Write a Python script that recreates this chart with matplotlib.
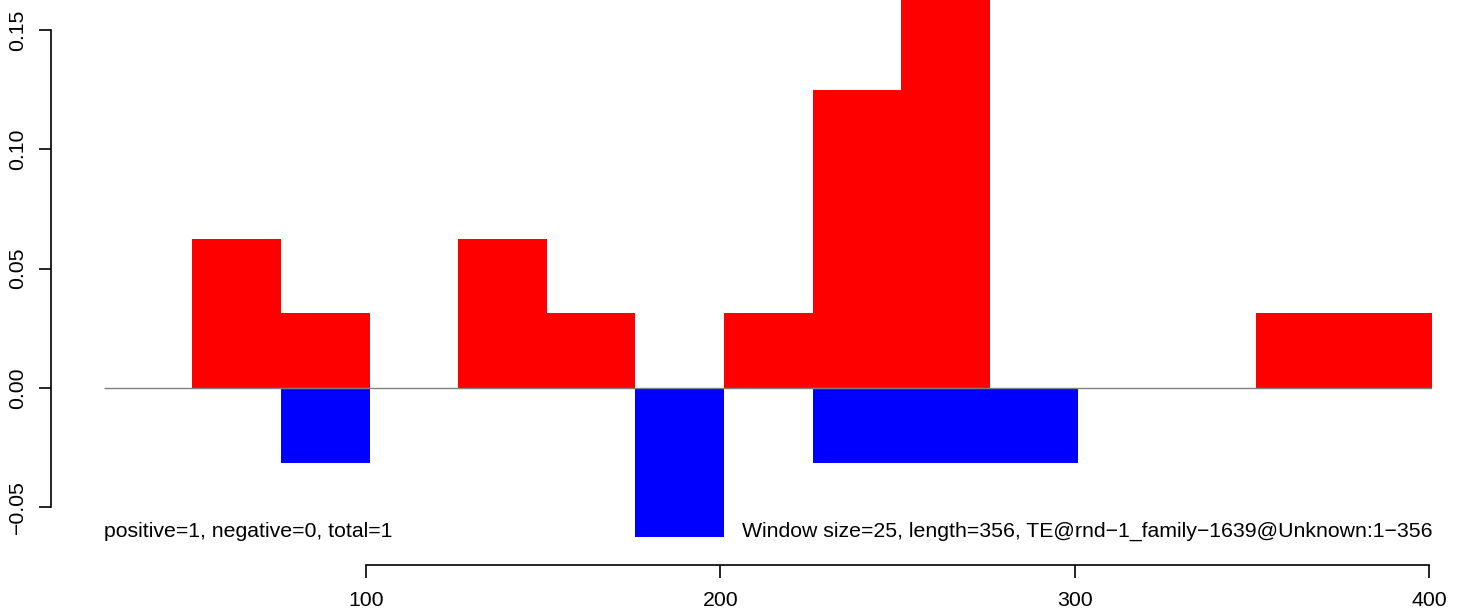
import matplotlib
matplotlib.use("Agg")
import matplotlib.pyplot as plt

# window starts (size 25) and scores
win_start = [26, 51, 76, 101, 126, 151, 176, 201, 226, 251, 276, 301, 326, 351, 376]
win_size = 25
pos_vals = [0, 0.0625, 0.03125, 0, 0.0625, 0.03125, 0, 0.03125, 0.125, 0.1875, 0, 0, 0, 0.03125, 0.03125]
neg_vals = [0, 0, -0.03125, 0, 0, 0, -0.0625, 0, -0.03125, -0.03125, -0.03125, 0, 0, 0, 0]
x_ticks = [100, 200, 300, 400]
y_ticks = [-0.05, 0.0, 0.05, 0.10, 0.15]
left_label = "positive=1, negative=0, total=1"
right_label = "Window size=25, length=356, TE@rnd\u22121_family\u22121639@Unknown:1\u2212356"

plt.rcParams["font.family"] = ["Liberation Sans", "DejaVu Sans"]

W, H = 1464, 613
fig = plt.figure(figsize=(W / 100, H / 100), dpi=100)
# axes box in pixels: x 51..1432, y 0..565
ax = fig.add_axes([51 / W, (H - 565) / H, (1432 - 51) / W, 565 / H])

ax.set_xlim(11.1, 400.8)
ax.set_ylim(-0.07416, 0.16257)

ax.bar(win_start, pos_vals, width=win_size, align="edge", color="red", linewidth=0)
ax.bar(win_start, neg_vals, width=win_size, align="edge", color="blue", linewidth=0)
ax.hlines(0, win_start[0], win_start[-1] + win_size, color="grey", linewidth=1)

for s in ["top", "right"]:
    ax.spines[s].set_visible(False)
ax.spines["left"].set_bounds(y_ticks[0], y_ticks[-1])
ax.spines["bottom"].set_bounds(x_ticks[0], x_ticks[-1])
ax.spines["left"].set_linewidth(1.2)
ax.spines["bottom"].set_linewidth(1.2)

ax.set_xticks(x_ticks)
ax.set_xticklabels([str(t) for t in x_ticks])
ax.set_yticks(y_ticks)
ax.set_yticklabels([("%.2f" % t).replace("-", "\u2212") for t in y_ticks], rotation=90, va="center")
ax.tick_params(axis="both", direction="out", length=9, width=1.2, labelsize=15.3)
ax.tick_params(axis="y", pad=8)
ax.tick_params(axis="x", pad=9.5)

ax.text(win_start[0], -0.06, left_label, ha="left", va="center", fontsize=15.3)
ax.text(win_start[-1] + win_size, -0.06, right_label, ha="right", va="center", fontsize=15.3)

plt.savefig("out.png", dpi=100)
